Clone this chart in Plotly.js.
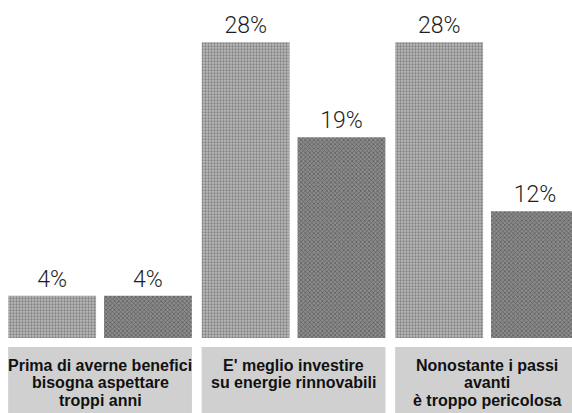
<!DOCTYPE html>
<html>
<head>
<meta charset="utf-8">
<script src="https://cdn.plot.ly/plotly-3.0.1.min.js"></script>
<style>
  html, body { margin: 0; padding: 0; background: #fff; overflow: hidden; }
  #chart { width: 572px; height: 413px; }
</style>
</head>
<body>
<div id="chart"></div>
<script>
// Opinion groups (each label split into its printed lines)
const categoryLines = [
  ["Prima di averne benefici", "bisogna aspettare", "troppi anni"],
  ["E' meglio investire", "su energie rinnovabili"],
  ["Nonostante i passi", "avanti", "è troppo pericolosa"]
];
const categoryIndex = [0, 1, 2];
// Two series of percentages per group
const seriesA = [4, 28, 28];
const seriesB = [4, 19, 12];

const fmt = v => v + "%";

const valueFont = { family: "Roboto, Liberation Sans, Arial, sans-serif", size: 23, color: "#1e1e1e", weight: 300 };

const traceA = {
  type: "bar",
  x: categoryIndex,
  y: seriesA,
  text: seriesA.map(fmt),
  textposition: "outside",
  cliponaxis: false,
  textfont: valueFont,
  hoverinfo: "none",
  marker: {
    color: "#a8a8a8",
    line: { width: 0 },
    pattern: { shape: ".", size: 3, solidity: 0.45, fgcolor: "#4a4a4a", bgcolor: "#bababa", fillmode: "overlay" }
  }
};

const traceB = {
  type: "bar",
  x: categoryIndex,
  y: seriesB,
  text: seriesB.map(fmt),
  textposition: "outside",
  cliponaxis: false,
  textfont: valueFont,
  hoverinfo: "none",
  marker: {
    color: "#6a6a6a",
    line: { width: 0 },
    pattern: { shape: "x", size: 3, solidity: 0.4, fgcolor: "#262626", bgcolor: "#8c8c8c", fillmode: "overlay" }
  }
};

// Plot area: bottom edge of the bars at 338px, label boxes underneath
const plotH = 338;
const toPaper = py => (plotH - py) / plotH;

const shapes = categoryIndex.map(c => ({
  type: "rect",
  xref: "x", yref: "paper",
  x0: c - 0.475, x1: c + 0.475,
  y0: toPaper(420), y1: toPaper(347),
  fillcolor: "#d0d0d0",
  line: { width: 0 },
  layer: "below"
}));

const annotations = [];
categoryLines.forEach((lines, c) => {
  lines.forEach((line, i) => {
    annotations.push({
      xref: "x", yref: "paper",
      x: categoryIndex[c],
      y: toPaper(365 + i * 17.5),
      xanchor: "center", yanchor: "middle",
      text: line,
      showarrow: false,
      font: { family: "Liberation Sans, Arial, sans-serif", size: 16, color: "#111", weight: "bold" }
    });
  });
});

const layout = {
  width: 572,
  height: 413,
  margin: { l: 0, r: 0, t: 0, b: 413 - plotH, pad: 0 },
  paper_bgcolor: "#ffffff",
  plot_bgcolor: "#ffffff",
  showlegend: false,
  barmode: "group",
  bargap: 0.01,
  bargroupgap: 0.083,
  xaxis: {
    range: [-0.517, 2.439],
    showticklabels: false, showgrid: false, zeroline: false, showline: false, ticks: ""
  },
  yaxis: {
    range: [0, 32],
    showticklabels: false, showgrid: false, zeroline: false, showline: false, ticks: ""
  },
  shapes: shapes,
  annotations: annotations
};

Plotly.newPlot("chart", [traceA, traceB], layout, { displayModeBar: false, staticPlot: true });
</script>
</body>
</html>
